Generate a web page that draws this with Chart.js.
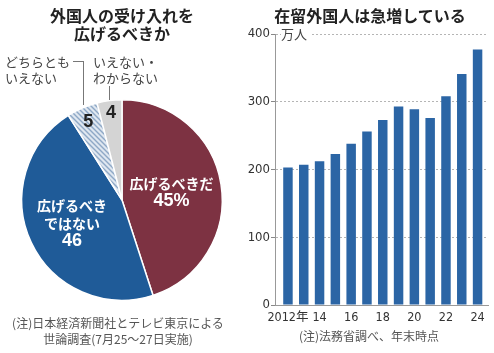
<!DOCTYPE html>
<html><head><meta charset="utf-8">
<script src="https://cdn.jsdelivr.net/npm/chart.js@4/dist/chart.umd.min.js"></script>
<style>
html,body{margin:0;padding:0;background:#fff;}
#wrap{position:relative;width:494px;height:353px;overflow:hidden;font-family:"Noto Sans CJK JP",sans-serif;}
.t{position:absolute;white-space:nowrap;}
.title{font-weight:bold;font-size:16px;line-height:18px;color:#222;text-align:center;}
.note{font-size:12px;line-height:16px;color:#555;text-align:center;}
.lab{font-size:13px;line-height:16px;color:#444;}
.ln{position:absolute;border-color:#777;border-style:solid;border-width:0;}
</style></head>
<body><div id="wrap">
<div style="position:absolute;left:0;top:0;width:244px;height:353px"><canvas id="pie"></canvas></div>
<div style="position:absolute;left:240px;top:0;width:254px;height:353px"><canvas id="bar"></canvas></div>

<div class="t title" style="left:0;top:6px;width:244px">外国人の受け入れを<br>広げるべきか</div>
<div class="t title" style="left:246px;top:6px;width:248px">在留外国人は急増している</div>

<div class="t lab" style="left:5px;top:54px">どちらとも<br>いえない</div>
<div class="t lab" style="left:93px;top:54px">いえない・<br>わからない</div>
<div class="ln" style="left:73px;top:61px;width:10px;height:0;border-top-width:1px"></div>
<div class="ln" style="left:83px;top:61px;width:0;height:44px;border-left-width:1px"></div>
<div class="ln" style="left:109px;top:86px;width:0;height:14px;border-left-width:1px"></div>

<div class="t lab" style="left:281px;top:27px;line-height:14px;background:#fff;padding-right:3px">万人</div>

<div class="t note" style="left:0;top:315px;width:236px">(注)日本経済新聞社とテレビ東京による<br>世論調査(7月25～27日実施)</div>
<div class="t note" style="left:244px;top:328px;width:250px">(注)法務省調べ、年末時点</div>
</div>
<script>
// ---- Pie data ----
const opinionCategories = ['広げるべきだ', '広げるべきではない', 'どちらともいえない', 'いえない・わからない'];
const opinionValues = [45, 46, 5, 4];
const sliceLabelLines = [['広げるべきだ', '45%'], ['広げるべき', 'ではない', '46'], ['5'], ['4']];

// ---- Bar data ----
const years = [2012, 2013, 2014, 2015, 2016, 2017, 2018, 2019, 2020, 2021, 2022, 2023, 2024];
const residents = [203, 207, 212, 223, 238, 256, 273, 293, 289, 276, 308, 341, 377];
const tickYears = [2012, 2014, 2016, 2018, 2020, 2022, 2024];
const tickLabels = ['2012年', '14', '16', '18', '20', '22', '24'];

// hatch pattern
function hatch(){
  const c = document.createElement('canvas'); c.width = 5; c.height = 5;
  const g = c.getContext('2d');
  g.fillStyle = '#dfe7f0'; g.fillRect(0,0,5,5);
  g.strokeStyle = '#8ea8c6'; g.lineWidth = 1.4;
  g.beginPath();
  g.moveTo(-1,-1); g.lineTo(6,6);
  g.moveTo(-1,4); g.lineTo(1,6);
  g.moveTo(4,-1); g.lineTo(6,1);
  g.stroke();
  return document.createElement('canvas').getContext('2d').createPattern(c,'repeat');
}

const labelRadius = [0.5, 0.55, 0.85, 0.87];
const labelColors = ['#fff', '#fff', '#222', '#222'];

const sliceLabels = {
  id: 'sliceLabels',
  afterDatasetsDraw(chart){
    const ctx = chart.ctx;
    const meta = chart.getDatasetMeta(0);
    meta.data.forEach((arc, i) => {
      const p = arc.getProps(['x','y','startAngle','endAngle','outerRadius'], true);
      const mid = (p.startAngle + p.endAngle) / 2;
      const r = p.outerRadius * labelRadius[i];
      const cx = p.x + Math.cos(mid) * r, cy = p.y + Math.sin(mid) * r;
      const lines = sliceLabelLines[i];
      const lh = 17.5;
      ctx.save();
      ctx.fillStyle = labelColors[i];
      ctx.textAlign = 'center'; ctx.textBaseline = 'middle';
      lines.forEach((t, k) => {
        const isNum = /^[0-9%]+$/.test(t);
        ctx.font = isNum ? 'bold 18px "Liberation Sans", Arial, sans-serif' : 'bold 14px "Noto Sans CJK JP", sans-serif';
        ctx.fillText(t, cx, cy + (k - (lines.length - 1) / 2) * lh);
      });
      ctx.restore();
    });
  }
};

new Chart(document.getElementById('pie'), {
  type: 'pie',
  data: {
    labels: opinionCategories,
    datasets: [{
      data: opinionValues,
      backgroundColor: ['#7d3242', '#1f5b98', hatch(), '#d4d4d4'],
      borderColor: '#fff',
      borderWidth: 1.5
    }]
  },
  options: {
    responsive: true, maintainAspectRatio: false, animation: false,
    layout: { padding: { left: 21, right: 21, top: 99, bottom: 52 } },
    plugins: { legend: { display: false }, tooltip: { enabled: false } }
  },
  plugins: [sliceLabels]
});

const axisFamily = '"Liberation Sans Narrow", "DejaVu Sans Condensed", "Noto Sans CJK JP", sans-serif';

new Chart(document.getElementById('bar'), {
  type: 'bar',
  data: {
    datasets: [{
      data: years.map((y, i) => ({ x: y, y: residents[i] })),
      backgroundColor: '#2b65a5',
      barPercentage: 0.6,
      categoryPercentage: 1
    }]
  },
  options: {
    responsive: true, maintainAspectRatio: false, animation: false,
    layout: { padding: { left: 0, right: 6, top: 34, bottom: 0 } },
    plugins: { legend: { display: false }, tooltip: { enabled: false } },
    scales: {
      x: {
        type: 'linear', min: 2011.18, max: 2024.66, offset: false,
        afterBuildTicks(s){ s.ticks = tickYears.map(v => ({ value: v })); },
        afterFit(s){ s.height = 48; },
        grid: { display: false, drawTicks: false, offset: false },
        border: { display: true, color: '#999', width: 1 },
        ticks: {
          callback: v => tickLabels[tickYears.indexOf(v)],
          padding: 5, maxRotation: 0, autoSkip: false,
          font: { family: axisFamily, size: 12.5 }, color: '#333'
        }
      },
      y: {
        min: 0, max: 400,
        afterFit(s){ s.width = 35; },
        ticks: { stepSize: 100, padding: 1, font: { family: axisFamily, size: 13 }, color: '#333' },
        grid: { color: '#b5b5b5', tickColor: '#888', tickLength: 4, drawTicks: true },
        border: { display: true, color: '#999', width: 1, dash: [2, 2] }
      }
    }
  }
});
</script>
</body></html>
